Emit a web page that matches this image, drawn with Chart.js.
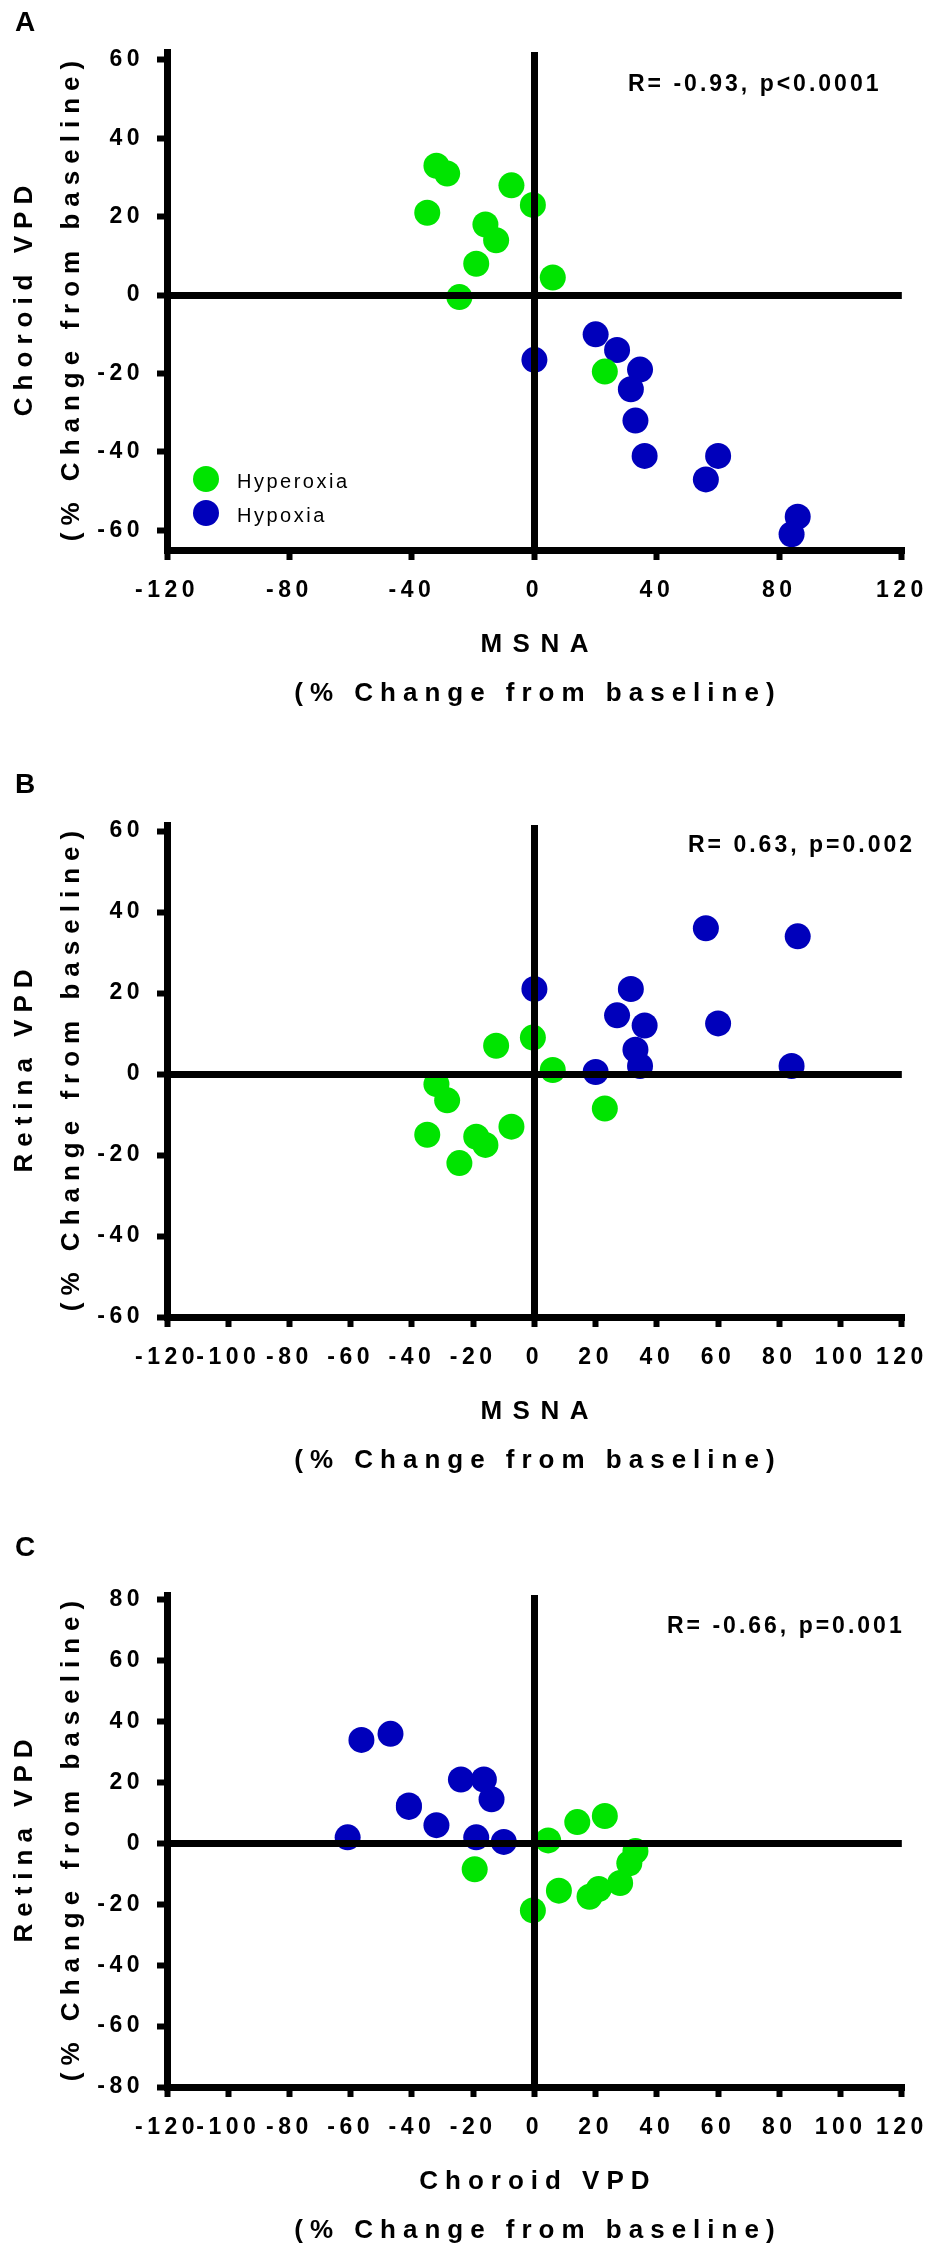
<!DOCTYPE html>
<html><head><meta charset="utf-8">
<script src="https://cdn.jsdelivr.net/npm/chart.js@4.4.0/dist/chart.umd.min.js"></script>
<style>
html,body{margin:0;padding:0;background:#fff;}
body{width:938px;height:2262px;position:relative;overflow:hidden;}
.panel{position:absolute;left:0;width:938px;}
canvas{display:block;}
</style></head><body>
<div class="panel" style="top:0;height:740px"><canvas id="cA" width="938" height="740"></canvas></div>
<div class="panel" style="top:740px;height:770px"><canvas id="cB" width="938" height="770"></canvas></div>
<div class="panel" style="top:1510px;height:752px"><canvas id="cC" width="938" height="752"></canvas></div>
<script>
// ---------- data (one entry per subject) ----------
const hyperoxiaMSNA    = [-32, -28.5, -35, -7.5, -0.5, -16, -12.5, -19, 6, -24.5, 23];
const hyperoxiaChoroid = [33, 31, 21, 28, 23, 18, 14, 8, 4.5, -0.5, -19.5];
const hyperoxiaRetina  = [-2.5, -6.5, -15, -13, 9, -17.5, 7, -15.5, 1, -22, -8.5];

const hypoxiaMSNA      = [20, 27, 0, 34.5, 31.5, 33, 36, 60, 56, 86, 84];
const hypoxiaChoroid   = [-10, -14, -16.5, -19, -24, -32, -41, -41, -47, -56.5, -61];
const hypoxiaRetina    = [0.5, 14.5, 21, 2, 21, 6, 12, 12.5, 36, 34, 2];

const seriesNames = ['Hyperoxia', 'Hypoxia'];
const panelLetters = ['A', 'B', 'C'];
const statLabels = ['R= -0.93, p<0.0001', 'R= 0.63, p=0.002', 'R= -0.66, p=0.001'];
const xTitles = [['MSNA', '(% Change from baseline)'], ['MSNA', '(% Change from baseline)'], ['Choroid VPD', '(% Change from baseline)']];
const yTitles = [['Choroid VPD', '(% Change from baseline)'], ['Retina VPD', '(% Change from baseline)'], ['Retina VPD', '(% Change from baseline)']];

const xTicksA  = [-120, -80, -40, 0, 40, 80, 120];
const xTicksBC = [-120, -100, -80, -60, -40, -20, 0, 20, 40, 60, 80, 100, 120];
const yTicksAB = [-60, -40, -20, 0, 20, 40, 60];
const yTicksC  = [-80, -60, -40, -20, 0, 20, 40, 60, 80];

const xRange  = [-120, 120];
const yRangeA = [-65, 62];
const yRangeB = [-60, 61.5];
const yRangeC = [-80, 81.6];

// ---------- style ----------
const FONT = '"Liberation Sans", Arial, Helvetica, sans-serif';
const GREEN = '#00e400';
const BLUE = '#0000bb';

function pts(xs, ys) { return xs.map((x, i) => ({ x: x, y: ys[i] })); }

function drawSpaced(ctx, text, x, y, sp, align) {
  ctx.save();
  try { ctx.letterSpacing = '0px'; } catch (e) {}
  ctx.textAlign = 'left';
  const widths = Array.from(text).map(ch => ctx.measureText(ch).width);
  const total = widths.reduce((a, b) => a + b, 0) + sp * (widths.length - 1);
  let cx = x;
  if (align === 'center') cx = x - total / 2;
  else if (align === 'right') cx = x - total;
  Array.from(text).forEach((ch, i) => { ctx.fillText(ch, cx, y); cx += widths[i] + sp; });
  ctx.restore();
}

function makeChart(canvasId, p) {
  const canvas = document.getElementById(canvasId);
  const H = canvas.height;
  const decor = {
    id: 'decor' + canvasId,
    beforeDraw(chart) { try { chart.ctx.letterSpacing = '4.5px'; } catch (e) {} },
    afterDraw(chart) {
      const ctx = chart.ctx;
      const a = chart.chartArea;
      ctx.save();
      ctx.fillStyle = '#000';
      ctx.textBaseline = 'middle';
      ctx.font = 'bold 28px ' + FONT;
      drawSpaced(ctx, p.letter, 15, p.letterY, 0, 'left');
      ctx.font = 'bold 23px ' + FONT;
      drawSpaced(ctx, p.stat, p.statX, p.statY, 3, 'left');
      const cx = (a.left + a.right) / 2;
      ctx.font = 'bold 26px ' + FONT;
      drawSpaced(ctx, p.xTitle[0], cx, a.bottom + 95, p.xTitle[0] === 'MSNA' ? 10.5 : 7, 'center');
      drawSpaced(ctx, p.xTitle[1], cx, a.bottom + 144, 7, 'center');
      const cy = (a.top + a.bottom) / 2;
      ctx.save();
      ctx.translate(25, cy); ctx.rotate(-Math.PI / 2);
      drawSpaced(ctx, p.yTitle[0], 0, 0, 7, 'center');
      ctx.restore();
      ctx.save();
      ctx.translate(72, cy); ctx.rotate(-Math.PI / 2);
      drawSpaced(ctx, p.yTitle[1], 0, 0, 7, 'center');
      ctx.restore();
      if (p.legend) {
        const ds = chart.data.datasets;
        const rows = [a.bottom - 71, a.bottom - 37];
        ds.forEach((d, i) => {
          ctx.beginPath();
          ctx.fillStyle = d.pointBackgroundColor;
          ctx.arc(a.left + 39, rows[i], 13, 0, Math.PI * 2);
          ctx.fill();
          ctx.fillStyle = '#000';
          ctx.font = '20px ' + FONT;
          drawSpaced(ctx, d.label, a.left + 70, rows[i] + 3, 2.5, 'left');
        });
      }
      ctx.restore();
    }
  };
  const gridOpts = {
    z: 1, drawOnChartArea: true, drawTicks: true, tickLength: 10, tickColor: '#000', tickWidth: 6,
    lineWidth: 7, color: c => (c.tick && c.tick.value === 0) ? '#000' : 'rgba(0,0,0,0)'
  };
  return new Chart(canvas, {
    type: 'scatter',
    data: {
      datasets: [
        { label: seriesNames[0], data: pts(p.x[0], p.y[0]), pointBackgroundColor: GREEN, backgroundColor: GREEN,
          pointRadius: 13, pointHoverRadius: 13, pointBorderWidth: 0, borderWidth: 0, clip: false },
        { label: seriesNames[1], data: pts(p.x[1], p.y[1]), pointBackgroundColor: BLUE, backgroundColor: BLUE,
          pointRadius: 13, pointHoverRadius: 13, pointBorderWidth: 0, borderWidth: 0, clip: false }
      ]
    },
    options: {
      responsive: false, animation: false, devicePixelRatio: 1, events: [],
      layout: { padding: { top: p.top, right: 36, bottom: 0, left: 0 } },
      plugins: { legend: { display: false }, tooltip: { enabled: false } },
      scales: {
        x: {
          type: 'linear', position: 'bottom', min: xRange[0], max: xRange[1],
          afterBuildTicks: s => { s.ticks = p.xTicks.map(v => ({ value: v })); },
          afterFit: s => { s.height = H - p.bottom; },
          border: { display: true, color: '#000', width: 7, z: 1 },
          grid: Object.assign({}, gridOpts),
          ticks: { font: { family: FONT, size: 23, weight: 'bold' }, color: '#000', padding: 17, maxRotation: 0, minRotation: 0, autoSkip: false }
        },
        y: {
          type: 'linear', position: 'left', min: p.yRange[0], max: p.yRange[1],
          afterBuildTicks: s => { s.ticks = p.yTicks.map(v => ({ value: v })); },
          afterFit: s => { s.width = 167; },
          border: { display: true, color: '#000', width: 7, z: 1 },
          grid: Object.assign({}, gridOpts),
          ticks: { font: { family: FONT, size: 23, weight: 'bold' }, color: '#000', padding: 13, autoSkip: false }
        }
      }
    },
    plugins: [decor]
  });
}

makeChart('cA', {
  x: [hyperoxiaMSNA, hypoxiaMSNA], y: [hyperoxiaChoroid, hypoxiaChoroid],
  xTicks: xTicksA, yTicks: yTicksAB, yRange: yRangeA,
  top: 52, bottom: 550, letter: panelLetters[0], letterY: 23,
  stat: statLabels[0], statX: 628, statY: 85,
  xTitle: xTitles[0], yTitle: yTitles[0], legend: true
});
makeChart('cB', {
  x: [hyperoxiaMSNA, hypoxiaMSNA], y: [hyperoxiaRetina, hypoxiaRetina],
  xTicks: xTicksBC, yTicks: yTicksAB, yRange: yRangeB,
  top: 85, bottom: 577, letter: panelLetters[1], letterY: 45,
  stat: statLabels[1], statX: 688, statY: 106,
  xTitle: xTitles[1], yTitle: yTitles[1], legend: false
});
makeChart('cC', {
  x: [hyperoxiaChoroid, hypoxiaChoroid], y: [hyperoxiaRetina, hypoxiaRetina],
  xTicks: xTicksBC, yTicks: yTicksC, yRange: yRangeC,
  top: 85, bottom: 577, letter: panelLetters[2], letterY: 38,
  stat: statLabels[2], statX: 667, statY: 117,
  xTitle: xTitles[2], yTitle: yTitles[2], legend: false
});
</script>
</body></html>
